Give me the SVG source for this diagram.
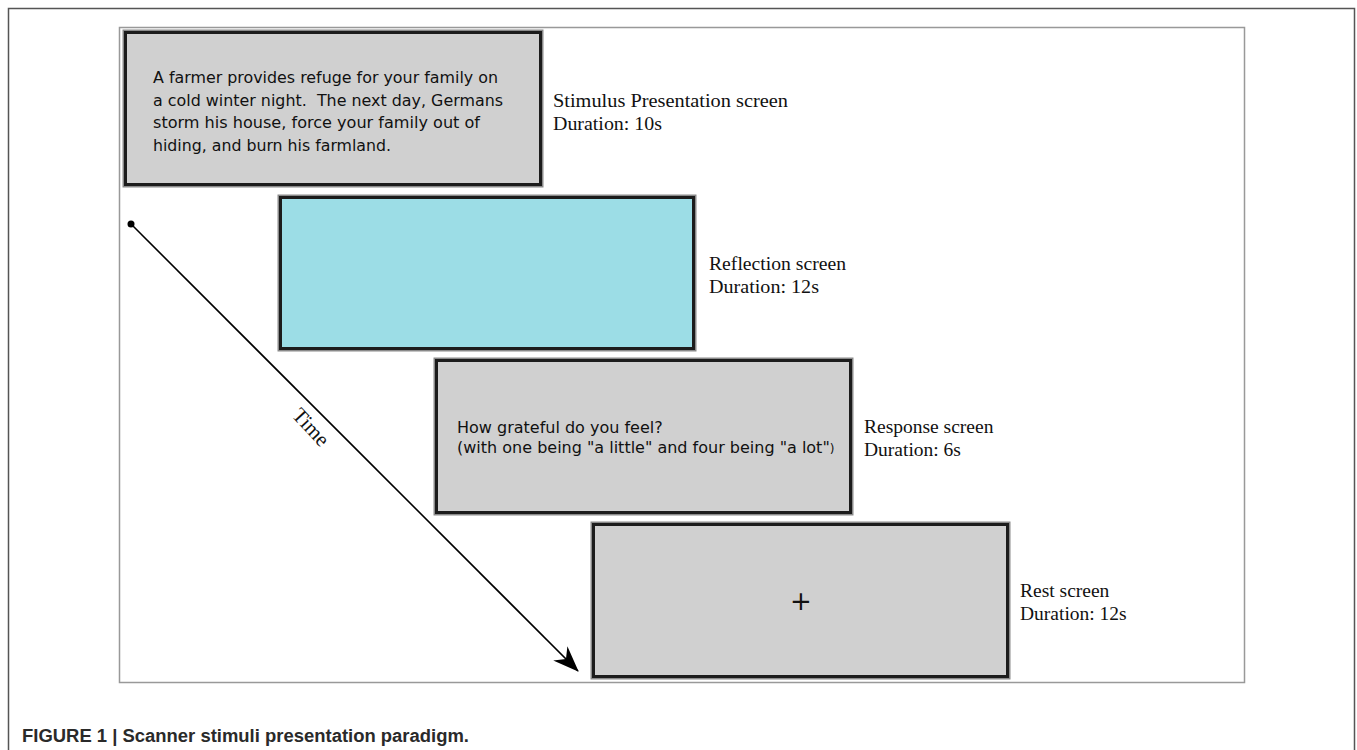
<svg xmlns="http://www.w3.org/2000/svg" width="1357" height="750" viewBox="0 0 1357 750">
<style>
.halo{fill:none;stroke:#8a8a8a;stroke-width:6}
.box{stroke:#1c1c1c;stroke-width:3}
.gray{fill:#d0d0d0}
.cyan{fill:#9cdde6}
.inner{font-family:"DejaVu Sans",sans-serif;font-size:16px;fill:#111;white-space:pre}
.lbl{font-family:"Liberation Serif",serif;font-size:19.5px;fill:#111}
</style>
<defs>
<marker id="ah" viewBox="0 0 26 20" refX="25" refY="10" markerWidth="26" markerHeight="20" markerUnits="userSpaceOnUse" orient="auto">
<path d="M0,0 L26,10 L0,20 L8,10 Z" fill="#000"/>
</marker>
<marker id="dot" viewBox="0 0 8 8" refX="4" refY="4" markerWidth="8" markerHeight="8" markerUnits="userSpaceOnUse">
<circle cx="4" cy="4" r="3.5" fill="#000"/>
</marker>
</defs>
<rect width="1357" height="750" fill="#fff"/>
<path d="M8.5,760 V8.5 H1354.5 V760" fill="none" stroke="#555" stroke-width="1.5"/>
<rect x="119.5" y="27.5" width="1125" height="655" fill="none" stroke="#999" stroke-width="1.5"/>

<g id="stimulus">
<rect class="halo" x="125.5" y="32.5" width="415" height="152"/>
<rect class="box gray" x="125.5" y="32.5" width="415" height="152"/>
<text class="inner" x="153" y="83" textLength="345" lengthAdjust="spacingAndGlyphs">A farmer provides refuge for your family on</text>
<text class="inner" x="153" y="105.5" xml:space="preserve" textLength="350" lengthAdjust="spacingAndGlyphs">a cold winter night.  The next day, Germans</text>
<text class="inner" x="153" y="128" textLength="327" lengthAdjust="spacingAndGlyphs">storm his house, force your family out of</text>
<text class="inner" x="153" y="150.5" textLength="238" lengthAdjust="spacingAndGlyphs">hiding, and burn his farmland.</text>
<text class="lbl" x="553" y="107" textLength="235" lengthAdjust="spacingAndGlyphs">Stimulus Presentation screen</text>
<text class="lbl" x="553" y="130" textLength="109" lengthAdjust="spacingAndGlyphs">Duration: 10s</text>
</g>

<g id="reflection">
<rect class="halo" x="280.5" y="197.5" width="413" height="151"/>
<rect class="box cyan" x="280.5" y="197.5" width="413" height="151"/>
<text class="lbl" x="709" y="270" textLength="137" lengthAdjust="spacingAndGlyphs">Reflection screen</text>
<text class="lbl" x="709" y="293" textLength="110" lengthAdjust="spacingAndGlyphs">Duration: 12s</text>
</g>

<g id="response">
<rect class="halo" x="436.5" y="360.5" width="414" height="152"/>
<rect class="box gray" x="436.5" y="360.5" width="414" height="152"/>
<text class="inner" x="457" y="432.5">How grateful do you feel?</text>
<text class="inner" x="457" y="453">(with one being "a little" and four being "a lot"<tspan font-size="12">)</tspan></text>
<text class="lbl" x="864" y="433">Response screen</text>
<text class="lbl" x="864" y="456">Duration: 6s</text>
</g>

<g id="rest">
<rect class="halo" x="593.5" y="524.5" width="414" height="152"/>
<rect class="box gray" x="593.5" y="524.5" width="414" height="152"/>
<text x="801" y="610" text-anchor="middle" font-family="DejaVu Sans,sans-serif" font-size="26" fill="#111">+</text>
<text class="lbl" x="1020" y="597">Rest screen</text>
<text class="lbl" x="1020" y="620">Duration: 12s</text>
</g>

<g id="connectors">
<line x1="131" y1="224" x2="578" y2="671" stroke="#000" stroke-width="1.6" marker-start="url(#dot)" marker-end="url(#ah)"/>
<text x="0" y="0" transform="translate(291,416) rotate(47)" font-family="Liberation Serif,serif" font-size="21" fill="#111">Time</text>
</g>

<text x="22" y="742" font-family="Liberation Sans,Arial,sans-serif" font-size="18" font-weight="bold" fill="#2a2a2a" textLength="447" lengthAdjust="spacingAndGlyphs">FIGURE 1 | Scanner stimuli presentation paradigm.</text>
</svg>
